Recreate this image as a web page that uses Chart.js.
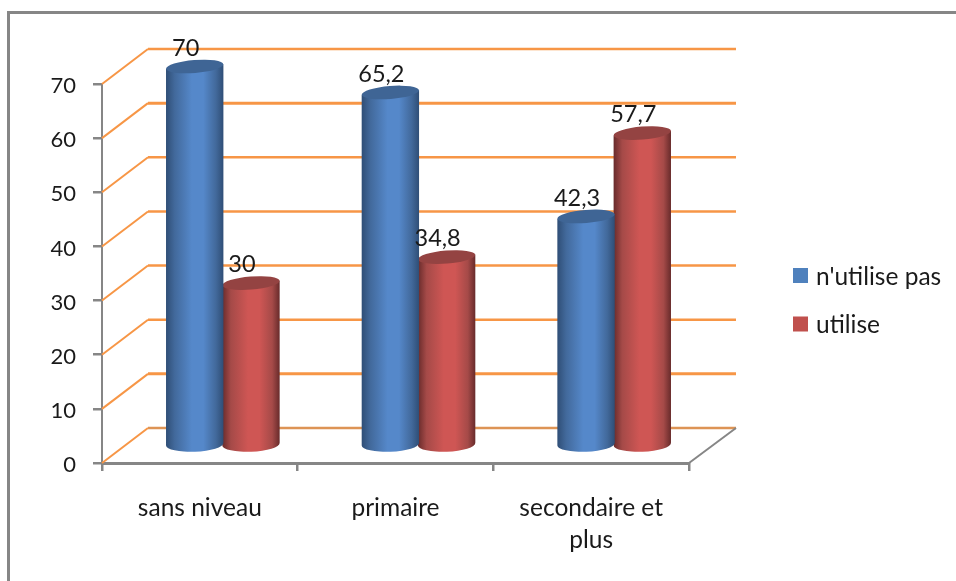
<!DOCTYPE html>
<html>
<head>
<meta charset="utf-8">
<title>Utilisation selon le niveau</title>
<script src="https://cdn.jsdelivr.net/npm/chart.js@4/dist/chart.umd.js"></script>
<style>
    html, body { margin: 0; padding: 0; background: #fff; }
    #wrap { width: 956px; height: 581px; position: relative; overflow: hidden; }
    canvas { display: block; }
</style>
</head>
<body>
<div id="wrap"><canvas id="usageChart" width="956" height="581"></canvas></div>
<script>
const categories = [['sans niveau'], ['primaire'], ['secondaire et', 'plus']];
const seriesNames = ["n'utilise pas", 'utilise'];
const nonUsers = [70, 65.2, 42.3];
const users = [30, 34.8, 57.7];
const yTicks = [0, 10, 20, 30, 40, 50, 60, 70];

const FONT = 'Lato, "Open Sans", sans-serif';
const INK = '#1a1a1a';
const AXIS_GREY = '#868686';
const WALL_ORANGE = '#f79646';

// fake 3d: the wall sits back by this much, bars stand half way into that depth
const DEPTH_X = 46;
const DEPTH_Y = -35;

const PALETTE = [
    { swatch: '#4f81bd', edge: '#2f4e76', shade: '#42699b', mid: '#5588ca', cap: '#3f6595' },
    { swatch: '#c0504d', edge: '#682b2b', shade: '#a54a48', mid: '#cf5654', cap: '#944342' }
];

// bar element painted as a cylinder, geometry still comes from the bar scales
class CylinderBar extends Chart.BarElement {
    static id = 'cylinderBar';

    draw(ctx) {
        const props = this.getProps(['x', 'y', 'base', 'width']);
        const swatch = this.options.backgroundColor;
        const colors = PALETTE.find(function (p) { return p.swatch === swatch; }) || PALETTE[0];
        const half = props.width / 2;
        const cx = props.x + DEPTH_X / 2;
        const top = props.y + DEPTH_Y / 2;
        const bottom = props.base + DEPTH_Y / 2;
        const tilt = -0.08;

        const grad = ctx.createLinearGradient(cx - half, 0, cx + half, 0);
        grad.addColorStop(0, colors.edge);
        grad.addColorStop(0.15, colors.shade);
        grad.addColorStop(0.45, colors.mid);
        grad.addColorStop(0.65, colors.mid);
        grad.addColorStop(0.87, colors.shade);
        grad.addColorStop(1, colors.edge);

        ctx.save();
        ctx.fillStyle = grad;
        ctx.beginPath();
        ctx.moveTo(cx - half, top + half * 0.08);
        ctx.lineTo(cx + half, top - half * 0.08);
        ctx.lineTo(cx + half, bottom - 2);
        ctx.ellipse(cx, bottom, half, 7.5, -0.04, 0, Math.PI);
        ctx.closePath();
        ctx.fill();

        ctx.fillStyle = colors.cap;
        ctx.beginPath();
        ctx.ellipse(cx, top, half, 6.5, tilt, 0, Math.PI * 2);
        ctx.fill();
        ctx.restore();
    }
}

class CylinderController extends Chart.BarController {
    static id = 'cylinderBars';
    static defaults = { dataElementType: 'cylinderBar' };
    static overrides = Chart.BarController.overrides;
}

Chart.register(CylinderBar, CylinderController);

// back wall, side wall and floor edge
const wallPlugin = {
    id: 'wall',
    beforeDatasetsDraw(chart) {
        const { ctx, scales: { x, y } } = chart;
        const left = x.left;
        const right = x.right;
        ctx.save();

        yTicks.forEach(function (tick) {
            const py = y.getPixelForValue(tick);
            const heavy = tick === 60 || tick === 10;
            ctx.strokeStyle = tick === 0 ? '#dd9455' : WALL_ORANGE;
            ctx.lineWidth = heavy ? 3 : 2.5;
            ctx.beginPath();
            ctx.moveTo(left + DEPTH_X, py + DEPTH_Y);
            ctx.lineTo(right + DEPTH_X + 1, py + DEPTH_Y);
            ctx.stroke();

            ctx.strokeStyle = WALL_ORANGE;
            ctx.lineWidth = 2;
            ctx.beginPath();
            ctx.moveTo(left, py);
            ctx.lineTo(left + DEPTH_X, py + DEPTH_Y);
            ctx.stroke();
        });

        const floor = y.getPixelForValue(0);
        ctx.strokeStyle = AXIS_GREY;
        ctx.lineWidth = 2;
        ctx.beginPath();
        ctx.moveTo(right, floor);
        ctx.lineTo(right + DEPTH_X + 1, floor + DEPTH_Y);
        ctx.stroke();
        ctx.restore();
    }
};

// values over the cylinders, decimal comma
const valueLabelPlugin = {
    id: 'valueLabels',
    afterDatasetsDraw(chart) {
        const { ctx } = chart;
        ctx.save();
        ctx.font = '23.5px ' + FONT;
        ctx.fillStyle = INK;
        ctx.textAlign = 'center';
        ctx.textBaseline = 'middle';
        chart.data.datasets.forEach(function (ds, di) {
            chart.getDatasetMeta(di).data.forEach(function (bar, i) {
                const text = String(ds.data[i]).replace('.', ',');
                ctx.fillText(text, bar.x + DEPTH_X / 2 - 9, bar.y + DEPTH_Y / 2 - 18.5);
            });
        });
        ctx.restore();
    }
};

// outer frame and the legend at the right
const framePlugin = {
    id: 'frame',
    afterDraw(chart) {
        const { ctx, width, height } = chart;
        ctx.save();
        ctx.fillStyle = '#868686';
        ctx.fillRect(7, 11, width - 7, 3);
        ctx.fillRect(7, 11, 3, height - 11);

        ctx.font = '24.5px ' + FONT;
        ctx.textBaseline = 'middle';
        ctx.textAlign = 'left';
        seriesNames.forEach(function (name, i) {
            const rowY = 276 + i * 48.5;
            ctx.fillStyle = PALETTE[i].swatch;
            ctx.fillRect(793, rowY - 8, 15, 15);
            ctx.fillStyle = INK;
            ctx.fillText(name, 816, rowY + 1);
        });
        ctx.restore();
    }
};

new Chart(document.getElementById('usageChart'), {
    type: 'cylinderBars',
    data: {
        labels: categories,
        datasets: [
            { label: seriesNames[0], data: nonUsers, backgroundColor: PALETTE[0].swatch, clip: false },
            { label: seriesNames[1], data: users, backgroundColor: PALETTE[1].swatch, clip: false }
        ]
    },
    options: {
        responsive: false,
        animation: false,
        barPercentage: 1.02,
        categoryPercentage: 0.575,
        layout: { padding: { top: 84, right: 267, left: 0, bottom: 0 } },
        plugins: { legend: { display: false }, tooltip: { enabled: false } },
        scales: {
            x: {
                afterFit: function (scale) { scale.height = 118; },
                border: { color: AXIS_GREY, width: 3 },
                grid: { drawOnChartArea: false, color: AXIS_GREY, lineWidth: 2.5, tickLength: 8 },
                ticks: { color: INK, maxRotation: 0, padding: 21, font: { family: FONT, size: 24.5, lineHeight: 1.3 } }
            },
            y: {
                min: 0,
                max: 70,
                afterFit: function (scale) { scale.width = 102; },
                afterBuildTicks: function (scale) {
                    scale.ticks = yTicks.map(function (v) { return { value: v }; });
                },
                border: { color: AXIS_GREY, width: 2 },
                grid: { drawOnChartArea: false, color: AXIS_GREY, lineWidth: 2.5, tickLength: 9 },
                ticks: { color: INK, padding: 17, labelOffset: 2, font: { family: FONT, size: 22 } }
            }
        }
    },
    plugins: [wallPlugin, valueLabelPlugin, framePlugin]
});
</script>
</body>
</html>
